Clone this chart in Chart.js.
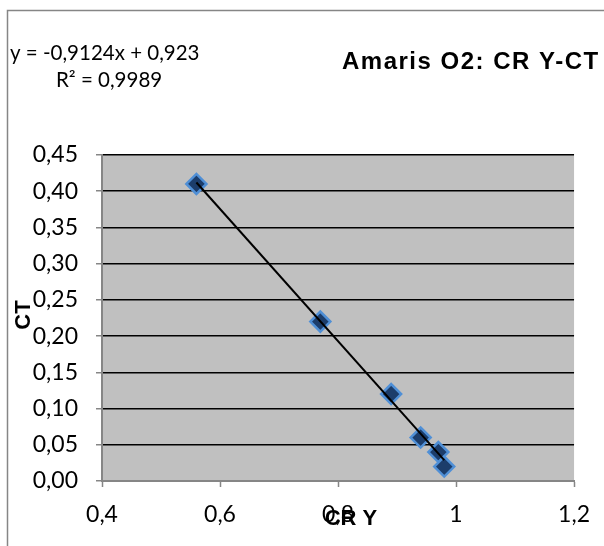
<!DOCTYPE html>
<html>
<head>
<meta charset="utf-8">
<script src="https://cdn.jsdelivr.net/npm/chart.js@4/dist/chart.umd.min.js"></script>
<style>
  html, body { margin: 0; padding: 0; background: #fff; }
  #wrap { width: 604px; height: 546px; position: relative; }
</style>
</head>
<body>
<div id="wrap"><canvas id="crChart" width="604" height="546"></canvas></div>
<script>
// values
const crY = [0.56, 0.77, 0.89, 0.94, 0.97, 0.98];
const ct = [0.41, 0.22, 0.12, 0.06, 0.04, 0.02];
const slope = -0.9124;
const intercept = 0.923;
const rSquared = '0,9989';
const xTicks = [0.4, 0.6, 0.8, 1.0, 1.2];
const yTicks = [0, 0.05, 0.1, 0.15, 0.2, 0.25, 0.3, 0.35, 0.4, 0.45];

const points = crY.map((x, i) => ({ x: x, y: ct[i] }));
const xMin = Math.min(...crY);
const xMax = Math.max(...crY);
const trend = [xMin, xMax].map(x => ({ x: x, y: slope * x + intercept }));

function comma(v, digits) {
    return v.toFixed(digits).replace('.', ',');
}

const frame = {
    id: 'frame',
    beforeDraw(chart) {
        const { ctx, chartArea } = chart;
        ctx.save();
        ctx.fillStyle = '#c0c0c0';
        ctx.fillRect(chartArea.left, chartArea.top, chartArea.right - chartArea.left, chartArea.bottom - chartArea.top);
        ctx.restore();
    },
    afterDraw(chart) {
        const ctx = chart.ctx;
        ctx.save();
        ctx.strokeStyle = '#868686';
        ctx.lineWidth = 1.5;
        ctx.strokeRect(7.5, 10.5, 620, 560);
        ctx.fillStyle = '#000';
        ctx.textBaseline = 'middle';
        ctx.font = '20.5px Lato';
        ctx.textAlign = 'left';
        ctx.fillText('y = ' + comma(slope, 4) + 'x + ' + comma(intercept, 3), 10, 53);
        ctx.fillText('R² = ' + rSquared, 56, 80);
        ctx.font = 'bold 24px "Liberation Sans"';
        ctx.letterSpacing = '1.5px';
        ctx.fillText('Amaris O2: CR Y-CT', 342, 62);
        ctx.letterSpacing = '0px';
        // axis titles
        ctx.font = 'bold 22px "Liberation Sans"';
        ctx.textAlign = 'center';
        ctx.fillText('CR Y', 351, 519);
        ctx.translate(24, 315);
        ctx.rotate(-Math.PI / 2);
        ctx.fillText('CT', 0, 0);
        ctx.restore();
    }
};

new Chart(document.getElementById('crChart').getContext('2d'), {
    type: 'scatter',
    data: {
        datasets: [{
            label: 'CT',
            data: points,
            pointStyle: 'rectRot',
            pointRadius: 10,
            pointHoverRadius: 10,
            backgroundColor: '#1c3d6b',
            borderColor: '#4f8fd6',
            borderWidth: 2.5,
            order: 1
        }, {
            label: 'trend',
            type: 'line',
            data: trend,
            borderColor: '#000',
            borderWidth: 2,
            pointRadius: 0,
            fill: false,
            order: 0
        }]
    },
    options: {
        responsive: false,
        animation: false,
        layout: { padding: { top: 155, left: 0, right: 29, bottom: 0 } },
        plugins: { legend: { display: false }, tooltip: { enabled: false } },
        scales: {
            x: {
                type: 'linear',
                min: 0.4,
                max: 1.2,
                afterBuildTicks: axis => { axis.ticks = xTicks.map(v => ({ value: v })); },
                afterFit: axis => { axis.height = 65; },
                ticks: {
                    color: '#000',
                    font: { family: 'Lato', size: 23 },
                    padding: 14,
                    maxRotation: 0,
                    callback: v => v === 1 ? '1' : comma(v, 1)
                },
                grid: { drawOnChartArea: false, drawTicks: true, tickLength: 6, tickColor: '#868686', tickWidth: 1.5 },
                border: { color: '#868686', width: 2 }
            },
            y: {
                min: 0,
                max: 0.45,
                afterBuildTicks: axis => { axis.ticks = yTicks.map(v => ({ value: v })); },
                afterFit: axis => { axis.width = 102; },
                ticks: {
                    color: '#000',
                    font: { family: 'Lato', size: 23 },
                    padding: 18,
                    callback: v => comma(v, 2)
                },
                grid: { color: '#000', lineWidth: 1.5, drawTicks: true, tickLength: 6, tickColor: '#868686', tickWidth: 1.5 },
                border: { color: '#868686', width: 2 }
            }
        }
    },
    plugins: [frame]
});
</script>
</body>
</html>
